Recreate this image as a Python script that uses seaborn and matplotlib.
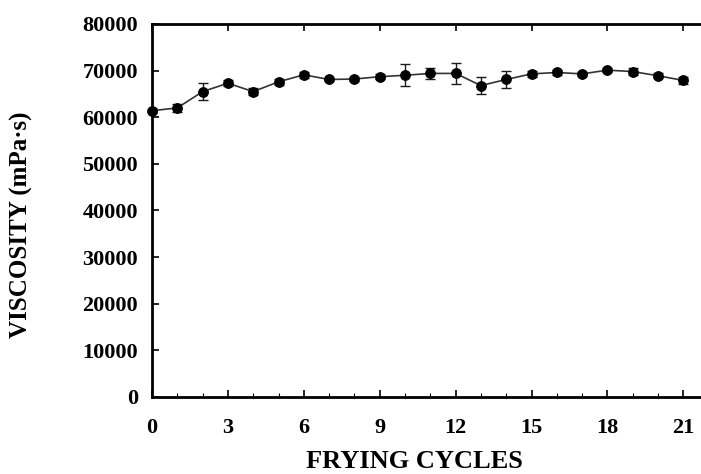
import matplotlib
matplotlib.use("Agg")
import matplotlib.pyplot as plt
import seaborn as sns
import pandas as pd
from matplotlib.ticker import MultipleLocator

cycles = list(range(22))
viscosity = [61400, 62000, 65500, 67300, 65500, 67600, 69100, 68100, 68200, 68700,
             69000, 69400, 69400, 66800, 68100, 69300, 69600, 69300, 70100, 69800,
             68900, 67900]
errors = [500, 900, 1900, 600, 800, 700, 600, 400, 400, 500,
          2400, 1100, 2300, 1800, 1900, 700, 500, 500, 500, 700,
          500, 700]

df = pd.DataFrame({"cycle": cycles, "visc": viscosity, "err": errors})

sns.set_style("ticks", {"text.color": "black", "axes.labelcolor": "black",
                        "xtick.color": "black", "ytick.color": "black",
                        "axes.edgecolor": "black"})
plt.rcParams["font.family"] = ["Liberation Serif", "DejaVu Serif"]
plt.rcParams["font.weight"] = "bold"

fig = plt.figure(figsize=(7.01, 4.74), dpi=100)
ax = fig.add_axes([152/701, 77/474, 22*25.3/701, 373/474])

ax.errorbar(df["cycle"], df["visc"], yerr=df["err"], fmt="none",
            ecolor="#1a1a1a", elinewidth=1.0, capsize=3.5, capthick=1.0, zorder=2)
sns.lineplot(data=df, x="cycle", y="visc", ax=ax, color="#333333", linewidth=1.2,
             marker="o", markersize=7, markerfacecolor="black",
             markeredgecolor="black", zorder=3, clip_on=False)

ax.set_xlim(0, 22)
ax.set_ylim(0, 80000)
ax.xaxis.set_major_locator(MultipleLocator(3))
ax.xaxis.set_minor_locator(MultipleLocator(1))
ax.yaxis.set_major_locator(MultipleLocator(10000))

ax.tick_params(axis="x", which="major", direction="in", length=5, width=1.2,
               top=True, labelsize=16, pad=15, colors="black")
ax.tick_params(axis="x", which="minor", direction="in", length=3, width=0.8,
               top=False, colors="black")
ax.tick_params(axis="y", which="major", direction="in", length=5, width=1.2,
               labelsize=16, pad=10, colors="black")
for lab in ax.get_xticklabels() + ax.get_yticklabels():
    lab.set_fontweight("bold")

for side in ["left", "bottom", "top"]:
    ax.spines[side].set_visible(True)
    ax.spines[side].set_linewidth(2.0)
    ax.spines[side].set_color("black")
ax.spines["right"].set_visible(False)

ax.set_xlabel("FRYING CYCLES", fontsize=19, fontweight="bold", va="center",
              color="black")
ax.set_ylabel("VISCOSITY (mPa·s)", fontsize=18, fontweight="bold", va="center",
              color="black")
ax.xaxis.set_label_coords((414-152)/(22*25.3), -(462-397)/373)
ax.yaxis.set_label_coords(-(152-21)/(22*25.3), (397-225)/373)

fig.savefig("out.png", dpi=100)
